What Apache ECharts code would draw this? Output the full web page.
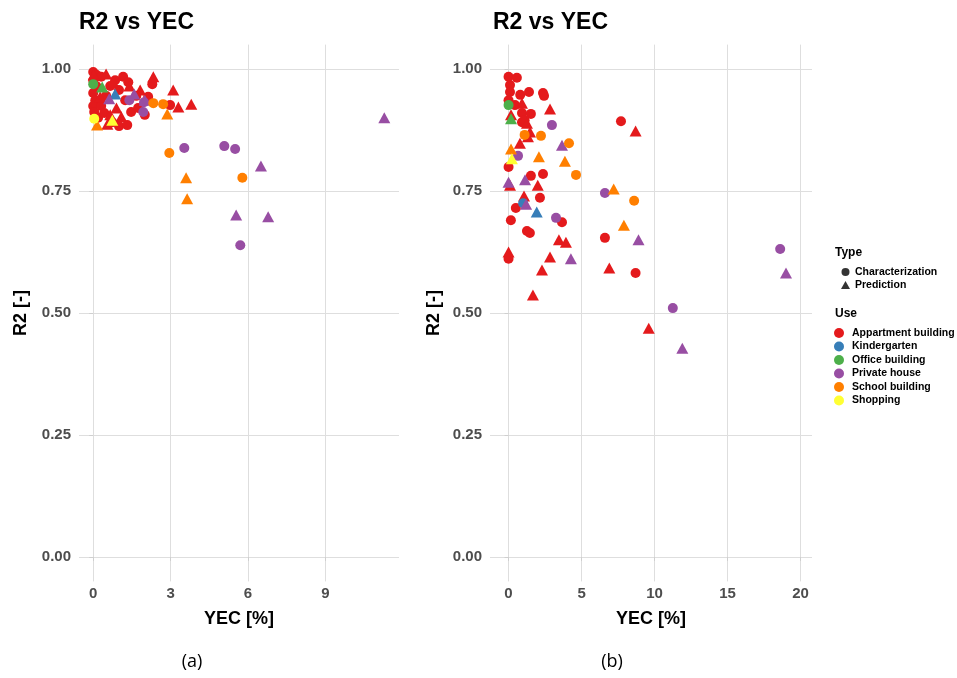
<!DOCTYPE html>
<html>
<head>
<meta charset="utf-8">
<script src="https://cdn.jsdelivr.net/npm/echarts@6/dist/echarts.min.js"></script>
<style>
html,body{margin:0;padding:0;background:#fff;}
#chart{width:957px;height:678px;}
</style>
</head>
<body>
<div id="chart"></div>
<script>
// ---- data: [YEC %, R2, type] ; type 0 = Characterization, 1 = Prediction ----
const useNames = ['Appartment building','Kindergarten','Office building','Private house','School building','Shopping'];
const useColors = ['#E41A1C','#377EB8','#4DAF4A','#984EA3','#FF7F00','#FFFF33'];
const typeNames = ['Characterization','Prediction'];
const xTicksA = [0,3,6,9];
const xTicksB = [0,5,10,15,20];
const yTicks = [0,0.25,0.5,0.75,1];

// (a)
const aApartment = [
 [0.00,0.994,0],[0.12,0.988,0],[0.31,0.984,0],[0.00,0.977,0],[0.12,0.965,0],[0.00,0.951,0],[0.08,0.936,0],
 [0.00,0.924,0],[0.04,0.912,0],[0.19,0.900,0],[0.31,0.924,0],[0.50,0.945,0],[0.66,0.965,0],[0.85,0.977,0],
 [1.00,0.957,0],[1.16,0.984,0],[1.36,0.973,0],[1.67,0.945,0],[2.13,0.943,0],[2.29,0.969,0],[2.98,0.926,0],
 [2.00,0.906,0],[0.74,0.891,0],[1.00,0.883,0],[1.32,0.885,0],[1.47,0.912,0],[0.43,0.910,0],[1.74,0.920,0],
 [1.24,0.936,0],
 [0.02,0.988,1],[0.50,0.990,1],[0.78,0.973,1],[1.40,0.965,1],[2.33,0.984,1],[3.10,0.957,1],[3.30,0.922,1],
 [3.80,0.928,1],[0.66,0.906,1],[1.09,0.902,1],[0.90,0.920,1],[0.27,0.943,1],[1.82,0.957,1],[0.55,0.887,1]
];
const aKindergarten = [[0.85,0.949,1]];
const aOffice = [[0.00,0.969,0],[0.35,0.963,1]];
const aPrivate = [
 [1.40,0.936,0],[1.97,0.932,0],[1.94,0.912,0],[3.53,0.838,0],[5.08,0.842,0],[5.50,0.836,0],[5.70,0.639,0],
 [0.62,0.939,1],[1.59,0.949,1],[2.00,0.936,1],[6.50,0.801,1],[5.54,0.701,1],[6.78,0.697,1],[11.28,0.900,1]
];
const aSchool = [
 [2.33,0.930,0],[2.71,0.928,0],[2.95,0.828,0],[5.78,0.777,0],
 [2.87,0.908,1],[0.15,0.885,1],[3.60,0.777,1],[3.64,0.734,1]
];
const aShopping = [[0.04,0.898,0],[0.74,0.895,1]];

// (b)
const bApartment = [
 [0.00,0.984,0],[0.57,0.982,0],[0.10,0.967,0],[0.10,0.953,0],[0.80,0.947,0],[1.40,0.953,0],[2.36,0.951,0],
 [2.43,0.945,0],[0.00,0.936,0],[0.44,0.926,0],[0.92,0.910,0],[1.53,0.908,0],[0.92,0.891,0],[1.10,0.895,0],
 [7.70,0.893,0],[0.00,0.799,0],[1.53,0.781,0],[2.36,0.785,0],[2.15,0.736,0],[0.50,0.715,0],[0.16,0.690,0],
 [3.66,0.686,0],[1.26,0.668,0],[1.46,0.664,0],[0.00,0.611,0],[6.60,0.654,0],[8.70,0.582,0],
 [0.92,0.930,1],[2.84,0.918,1],[0.17,0.906,1],[1.47,0.871,1],[1.33,0.861,1],[0.78,0.848,1],[1.26,0.889,1],
 [0.10,0.762,1],[2.00,0.762,1],[1.06,0.740,1],[3.45,0.650,1],[3.93,0.645,1],[0.00,0.625,1],[2.84,0.615,1],
 [2.29,0.588,1],[1.67,0.537,1],[6.90,0.592,1],[8.70,0.873,1],[9.60,0.469,1]
];
const bKindergarten = [[1.00,0.725,0],[1.93,0.707,1]];
const bOffice = [[0.00,0.926,0],[0.17,0.898,1]];
const bPrivate = [
 [2.97,0.885,0],[0.65,0.822,0],[3.25,0.695,0],[6.60,0.746,0],[18.60,0.631,0],[11.25,0.510,0],
 [3.66,0.844,1],[0.00,0.768,1],[1.13,0.773,1],[1.20,0.723,1],[4.27,0.611,1],[8.90,0.650,1],[19.00,0.582,1],[11.90,0.428,1]
];
const bSchool = [
 [2.22,0.863,0],[1.10,0.865,0],[4.14,0.848,0],[4.62,0.783,0],[8.60,0.730,0],
 [0.17,0.836,1],[2.08,0.820,1],[3.86,0.811,1],[7.20,0.754,1],[7.90,0.680,1]
];
const bShopping = [[0.23,0.816,1]];

const plotA = [aApartment,aKindergarten,aOffice,aPrivate,aSchool,aShopping];
const plotB = [bApartment,bKindergarten,bOffice,bPrivate,bSchool,bShopping];

// ---- chart ----
const FONT = '"Liberation Sans", Arial, sans-serif';
const gridColor = '#dedede';

function xAxisFor(gridIndex, min, max, ticks){
  return {
    type:'value', gridIndex:gridIndex, min:min, max:max,
    name:'YEC [%]', nameLocation:'middle', nameGap:29,
    nameTextStyle:{fontFamily:FONT, fontWeight:'bold', fontSize:18, color:'#000'},
    axisLine:{show:false},
    axisTick:{show:true, length:4, lineStyle:{color:'#cfcfcf'}, customValues:ticks},
    axisLabel:{show:true, margin:5, customValues:ticks, fontFamily:FONT, fontWeight:'bold', fontSize:15, color:'#4d4d4d'},
    splitLine:{show:true, lineStyle:{color:gridColor, width:1}, customValues:ticks},
    minorSplitLine:{show:false}
  };
}
function yAxisFor(gridIndex, nameGap){
  return {
    type:'value', gridIndex:gridIndex, min:-0.05, max:1.05,
    name:'R2 [-]', nameLocation:'middle', nameGap:nameGap, nameRotate:90,
    nameTextStyle:{fontFamily:FONT, fontWeight:'bold', fontSize:18, color:'#000'},
    axisLine:{show:false},
    axisTick:{show:true, length:4, lineStyle:{color:'#cfcfcf'}, customValues:yTicks},
    axisLabel:{show:true, margin:8, customValues:yTicks, fontFamily:FONT, fontWeight:'bold', fontSize:15, color:'#4d4d4d',
      formatter:function(v){return v.toFixed(2);}},
    splitLine:{show:true, lineStyle:{color:gridColor, width:1}, customValues:yTicks}
  };
}

const series = [];
function addPlot(plot, axisIndex){
  plot.forEach(function(arr, i){
    series.push({
      type:'scatter', name:useNames[i], xAxisIndex:axisIndex, yAxisIndex:axisIndex,
      data:arr,
      symbol:function(v){return v[2] ? 'triangle' : 'circle';},
      symbolSize:function(v){return v[2] ? [12,11] : 10;},
      itemStyle:{color:useColors[i], opacity:1},
      emphasis:{disabled:true},
      z:2+i
    });
  });
}
addPlot(plotA, 0);
addPlot(plotB, 1);
typeNames.forEach(function(n){
  series.push({type:'scatter', name:n, xAxisIndex:0, yAxisIndex:0, data:[], itemStyle:{color:'#000'}});
});

const legendText = {fontFamily:FONT, fontWeight:'bold', fontSize:10.5, color:'#000', lineHeight:12};

const option = {
  animation:false,
  backgroundColor:'#ffffff',
  title:[
    {text:'R2 vs YEC', left:79, top:11, padding:0, textStyle:{fontFamily:FONT, fontWeight:'bold', fontSize:23, color:'#000'}},
    {text:'R2 vs YEC', left:493, top:11, padding:0, textStyle:{fontFamily:FONT, fontWeight:'bold', fontSize:23, color:'#000'}}
  ],
  grid:[
    {left:79, top:44.6, width:320, height:536.8, containLabel:false},
    {left:490, top:44.6, width:322, height:536.8, containLabel:false}
  ],
  xAxis:[ xAxisFor(0, -0.55, 11.85, xTicksA), xAxisFor(1, -1.27, 20.78, xTicksB) ],
  yAxis:[ yAxisFor(0, 49), yAxisFor(1, 47) ],
  legend:[
    {left:841, top:266, orient:'vertical', padding:0, itemWidth:9, itemHeight:8, itemGap:1, selectedMode:false,
     data:[{name:'Characterization', icon:'circle'},{name:'Prediction', icon:'triangle'}],
     itemStyle:{color:'#000'}, textStyle:legendText},
    {left:834, top:327, orient:'vertical', padding:0, itemWidth:16, itemHeight:10, itemGap:1.5, selectedMode:false,
     data:useNames.map(function(n){return {name:n, icon:'circle'};}), textStyle:legendText}
  ],
  graphic:[
    {type:'text', left:835, top:247, style:{text:'Type', font:'bold 12px "Liberation Sans", Arial, sans-serif', fill:'#000'}},
    {type:'text', left:835, top:308, style:{text:'Use', font:'bold 12px "Liberation Sans", Arial, sans-serif', fill:'#000'}},
    {type:'text', x:192, y:662, style:{text:'(a)', font:'18px "Open Sans", sans-serif', fill:'#000', align:'center', verticalAlign:'middle'}},
    {type:'text', x:612, y:662, style:{text:'(b)', font:'18px "Open Sans", sans-serif', fill:'#000', align:'center', verticalAlign:'middle'}}
  ],
  series:series
};

const chart = echarts.init(document.getElementById('chart'), null, {renderer:'canvas'});
chart.setOption(option);
</script>
</body>
</html>
